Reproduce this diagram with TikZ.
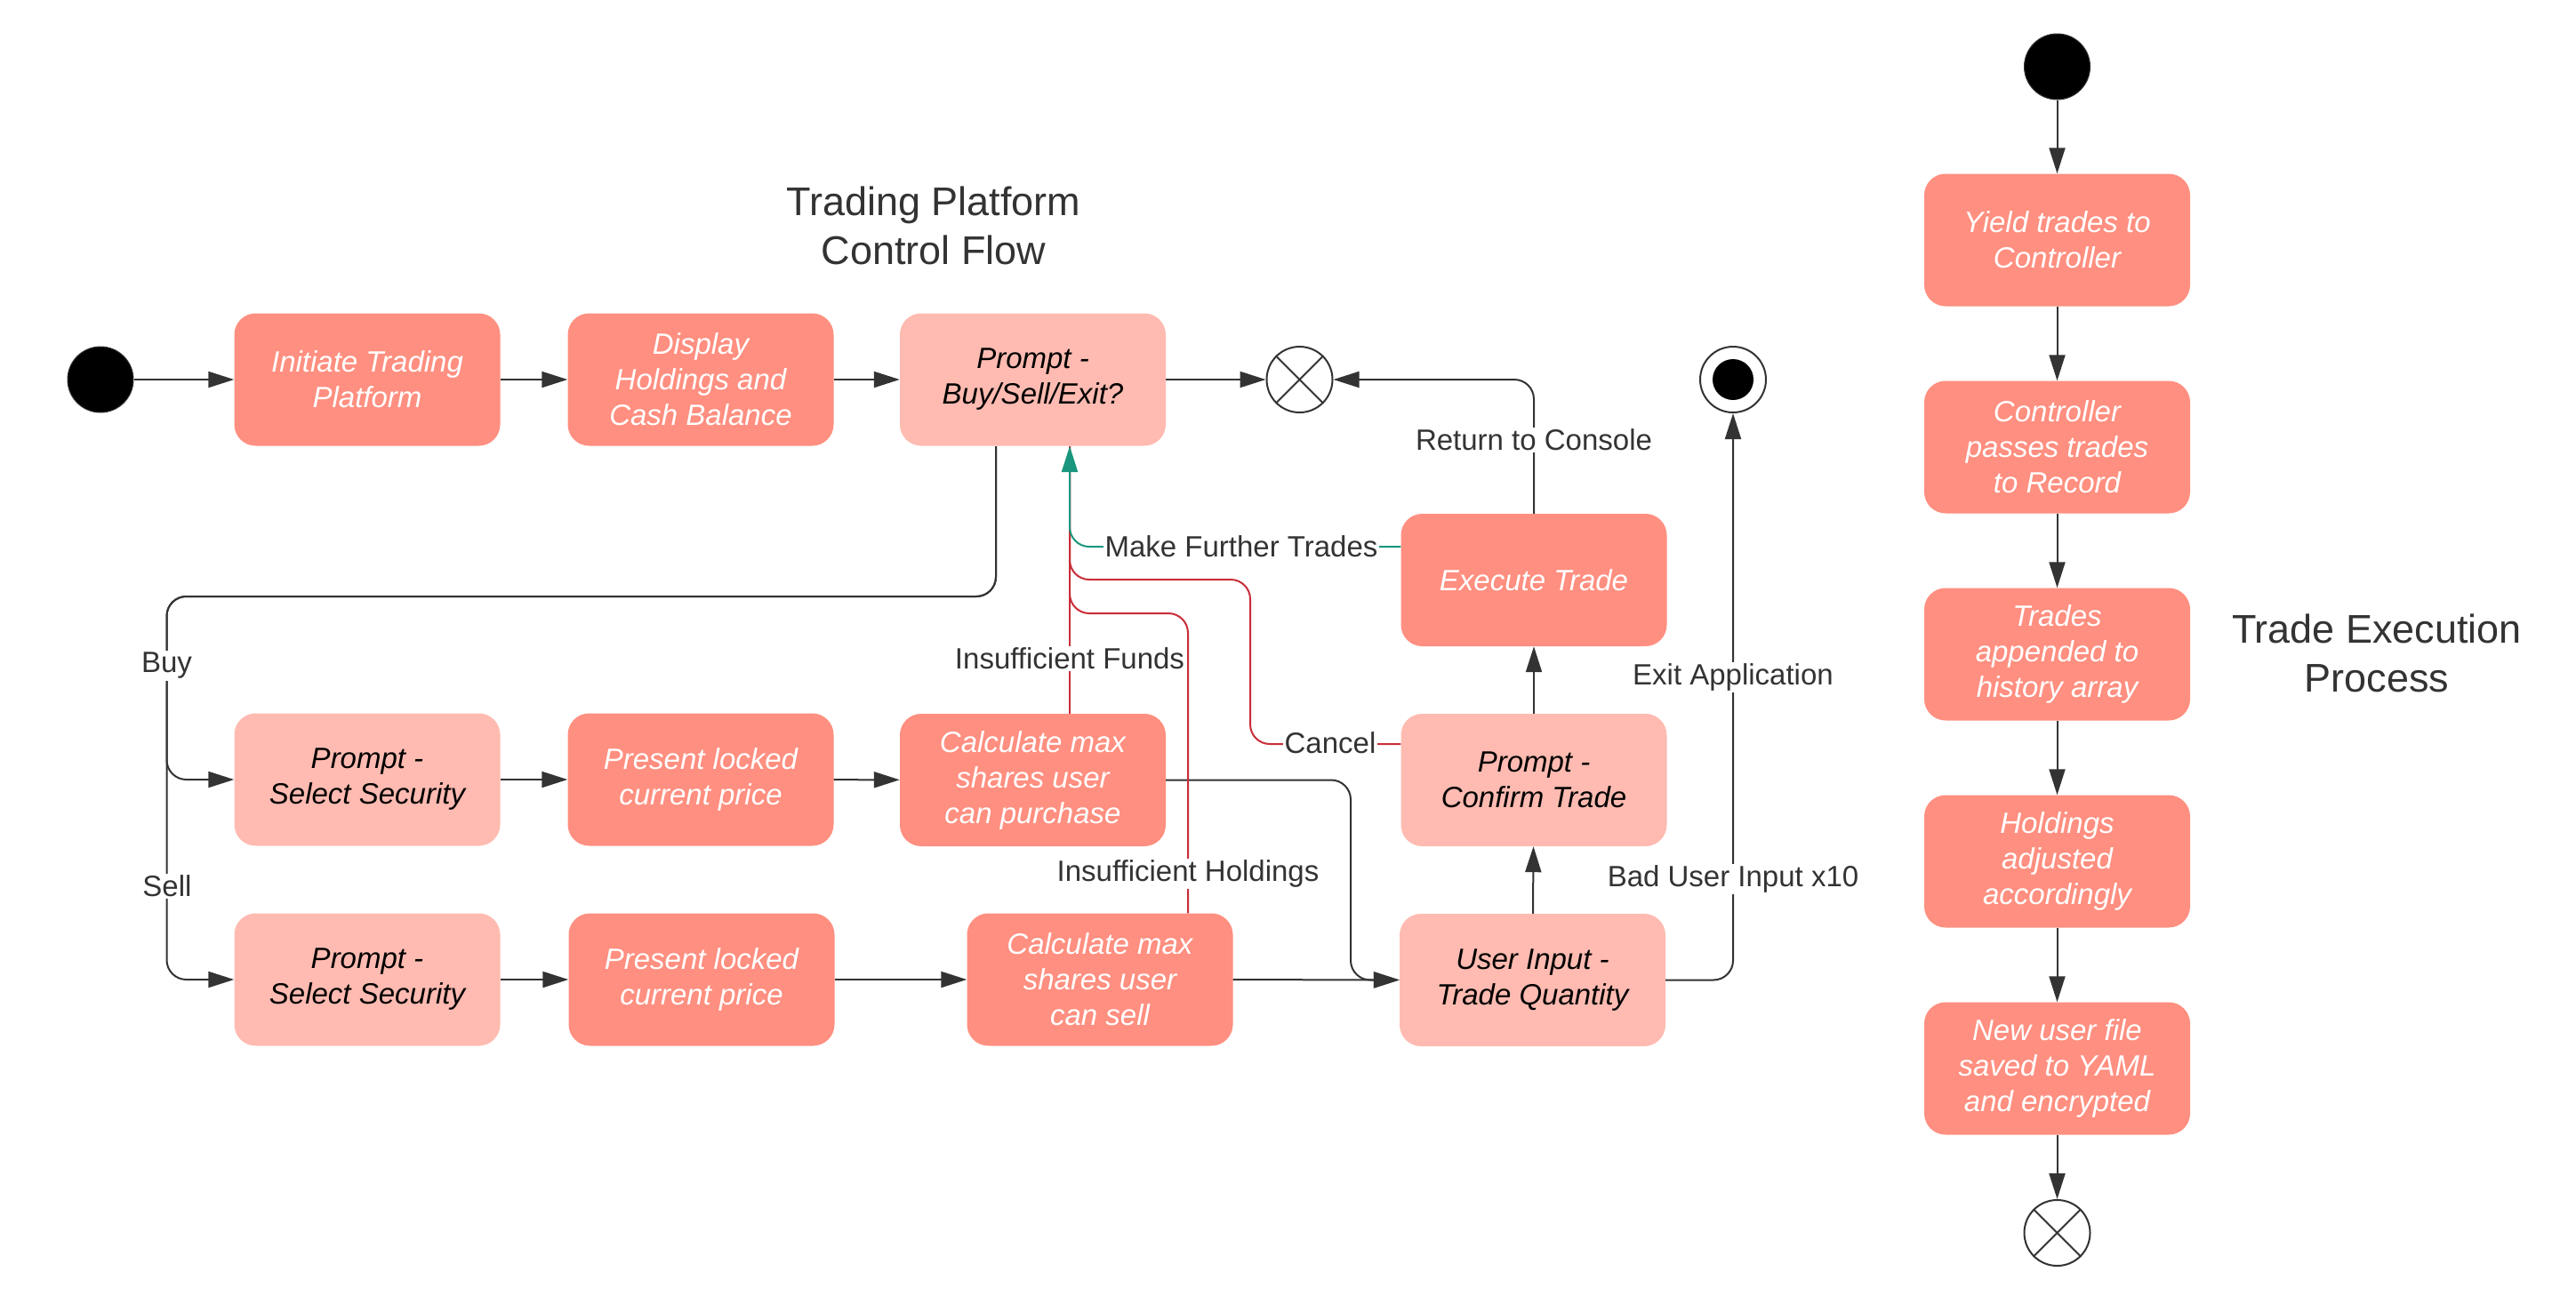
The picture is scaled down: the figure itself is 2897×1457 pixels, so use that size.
\documentclass[tikz,border=0pt]{standalone}
\usepackage{fontspec}
\setmainfont{Liberation Sans}
\usetikzlibrary{arrows.meta}
\definecolor{boxdark}{HTML}{FF8F80}
\definecolor{boxlight}{HTML}{FFBBB1}
\definecolor{ln}{HTML}{333333}
\definecolor{redln}{HTML}{C92D39}
\definecolor{grnln}{HTML}{19967D}
\tikzset{
  box/.style={rectangle, rounded corners=24pt, minimum width=299pt, minimum height=149pt, align=center, inner sep=0pt, font=\fontsize{33}{40}\selectfont\itshape},
  dk/.style={box, fill=boxdark, text=white},
  lt/.style={box, fill=boxlight, text=black},
  lbl/.style={fill=white, text=ln, inner sep=2pt, font=\fontsize{33}{40}\selectfont},
  ttl/.style={text=ln, align=center, font=\fontsize{45}{55}\selectfont},
  arr/.style={draw=ln, line width=2pt, -{Triangle[length=29pt,width=18pt]}},
  plain/.style={draw=ln, line width=2pt},
  redl/.style={draw=redln, line width=2pt},
  grnl/.style={draw=grnln, line width=2pt, -{Triangle[length=29pt,width=18pt,fill=grnln]}},
  startc/.style={circle, fill=black, draw=ln, line width=1pt, minimum size=74pt, inner sep=0pt},
  endc/.style={circle, fill=white, draw=ln, line width=2pt, minimum size=74pt, inner sep=0pt},
}
\begin{document}
\begin{tikzpicture}[x=1pt,y=-1pt]
\useasboundingbox (0,0) rectangle (2897,1457);

% titles
\node[ttl] (title) at (1050,254) {Trading Platform\\Control Flow};
\node[ttl] (title2) at (2673,735) {Trade Execution\\Process};

% main flow nodes
\node[startc] (start) at (113,427) {};
\node[dk] (init) at (413,427) {Initiate Trading\\Platform};
\node[dk] (disp) at (788,427) {Display\\Holdings and\\Cash Balance};
\node[lt] (prompt) at (1161.5,427) {Prompt -\\Buy/Sell/Exit?};
\node[endc] (xc) at (1461.5,427) {};
\draw[ln, line width=2pt] (xc.north east) -- (xc.south west) (xc.north west) -- (xc.south east);
\node[endc] (fin) at (1949,427) {};
\node[circle, fill=black, minimum size=46pt, inner sep=0pt] (fininner) at (fin) {};

\node[dk] (exec) at (1725,652.5) {Execute Trade};
\node[lt] (confirm) at (1725,877.5) {Prompt -\\Confirm Trade};
\node[lt] (userin) at (1723.5,1102.5) {User Input -\\Trade Quantity};

\node[lt] (selbuy) at (413,877) {Prompt -\\Select Security};
\node[dk] (presbuy) at (788,877) {Present locked\\current price};
\node[dk] (calcbuy) at (1161.5,877.5) {Calculate max\\shares user\\can purchase};

\node[lt] (selsell) at (413,1102) {Prompt -\\Select Security};
\node[dk] (pressell) at (789,1102) {Present locked\\current price};
\node[dk] (calcsell) at (1237,1102) {Calculate max\\shares user\\can sell};

\coordinate (pin) at (1203,502);
\coordinate (pout) at (1120,502);

% straight arrows
\draw[arr] (start) -- (init);
\draw[arr] (init) -- (disp);
\draw[arr] (disp) -- (prompt);
\draw[arr] (prompt) -- (xc);
\draw[arr] (selbuy) -- (presbuy);
\draw[arr] (presbuy) -- (calcbuy);
\draw[arr] (selsell) -- (pressell);
\draw[arr] (pressell) -- (calcsell);
\draw[arr] (calcsell) -- (userin);
\draw[arr] (userin) -- (confirm);
\draw[arr] (confirm) -- (exec);

% buy / sell branches
\draw[arr, rounded corners=22pt] (pout) |- (187.5,671) |- (selbuy.west);
\draw[arr, rounded corners=22pt] (pout) |- (187.5,671) |- (selsell.west);
\node[lbl] (buy) at (187.5,749) {Buy};
\node[lbl] (sell) at (188,997) {Sell};

% calc purchase to user input
\draw[arr, rounded corners=22pt] (calcbuy.east) -| (1519,1102.5) -- (userin.west);

% execute to console
\draw[arr, rounded corners=22pt] (exec.north) |- (xc.east);
\node[lbl] (ret) at (1725,495) {Return to Console};

% user input to exit
\draw[arr, rounded corners=22pt] (userin.east) -| (fin.south);
\node[lbl] (exitl) at (1949,762) {Exit Application};
\node[lbl] (bad) at (1949,989) {Bad User Input x10};

% red returns
\draw[redl] ([xshift=41.5pt]calcbuy.north) -- (pin);
\draw[redl, rounded corners=22pt] ([yshift=40.5pt]confirm.west) -| (1406,652) -| (pin);
\draw[redl, rounded corners=22pt] ([xshift=99pt]calcsell.north) |- (1203,690) -- (pin);
\node[lbl] (funds) at (1203,741) {Insufficient Funds};
\node[lbl] (cancel) at (1496,836) {Cancel};
\node[lbl] (hold) at (1336,983) {Insufficient Holdings};

% green return
\draw[grnl, rounded corners=22pt] ([yshift=37.5pt]exec.west) -| (pin);
\node[lbl] (further) at (1396,615) {Make Further Trades};

% trade execution process
\node[startc] (start2) at (2313.5,75) {};
\node[dk] (r1) at (2313.5,270) {Yield trades to\\Controller};
\node[dk] (r2) at (2313.5,503) {Controller\\passes trades\\to Record};
\node[dk] (r3) at (2313.5,736) {Trades\\appended to\\history array};
\node[dk] (r4) at (2313.5,969) {Holdings\\adjusted\\accordingly};
\node[dk] (r5) at (2313.5,1202) {New user file\\saved to YAML\\and encrypted};
\node[endc] (xc2) at (2313.5,1387) {};
\draw[ln, line width=2pt] (xc2.north east) -- (xc2.south west) (xc2.north west) -- (xc2.south east);
\draw[arr] (start2) -- (r1);
\draw[arr] (r1) -- (r2);
\draw[arr] (r2) -- (r3);
\draw[arr] (r3) -- (r4);
\draw[arr] (r4) -- (r5);
\draw[arr] (r5) -- (xc2);
\end{tikzpicture}
\end{document}
